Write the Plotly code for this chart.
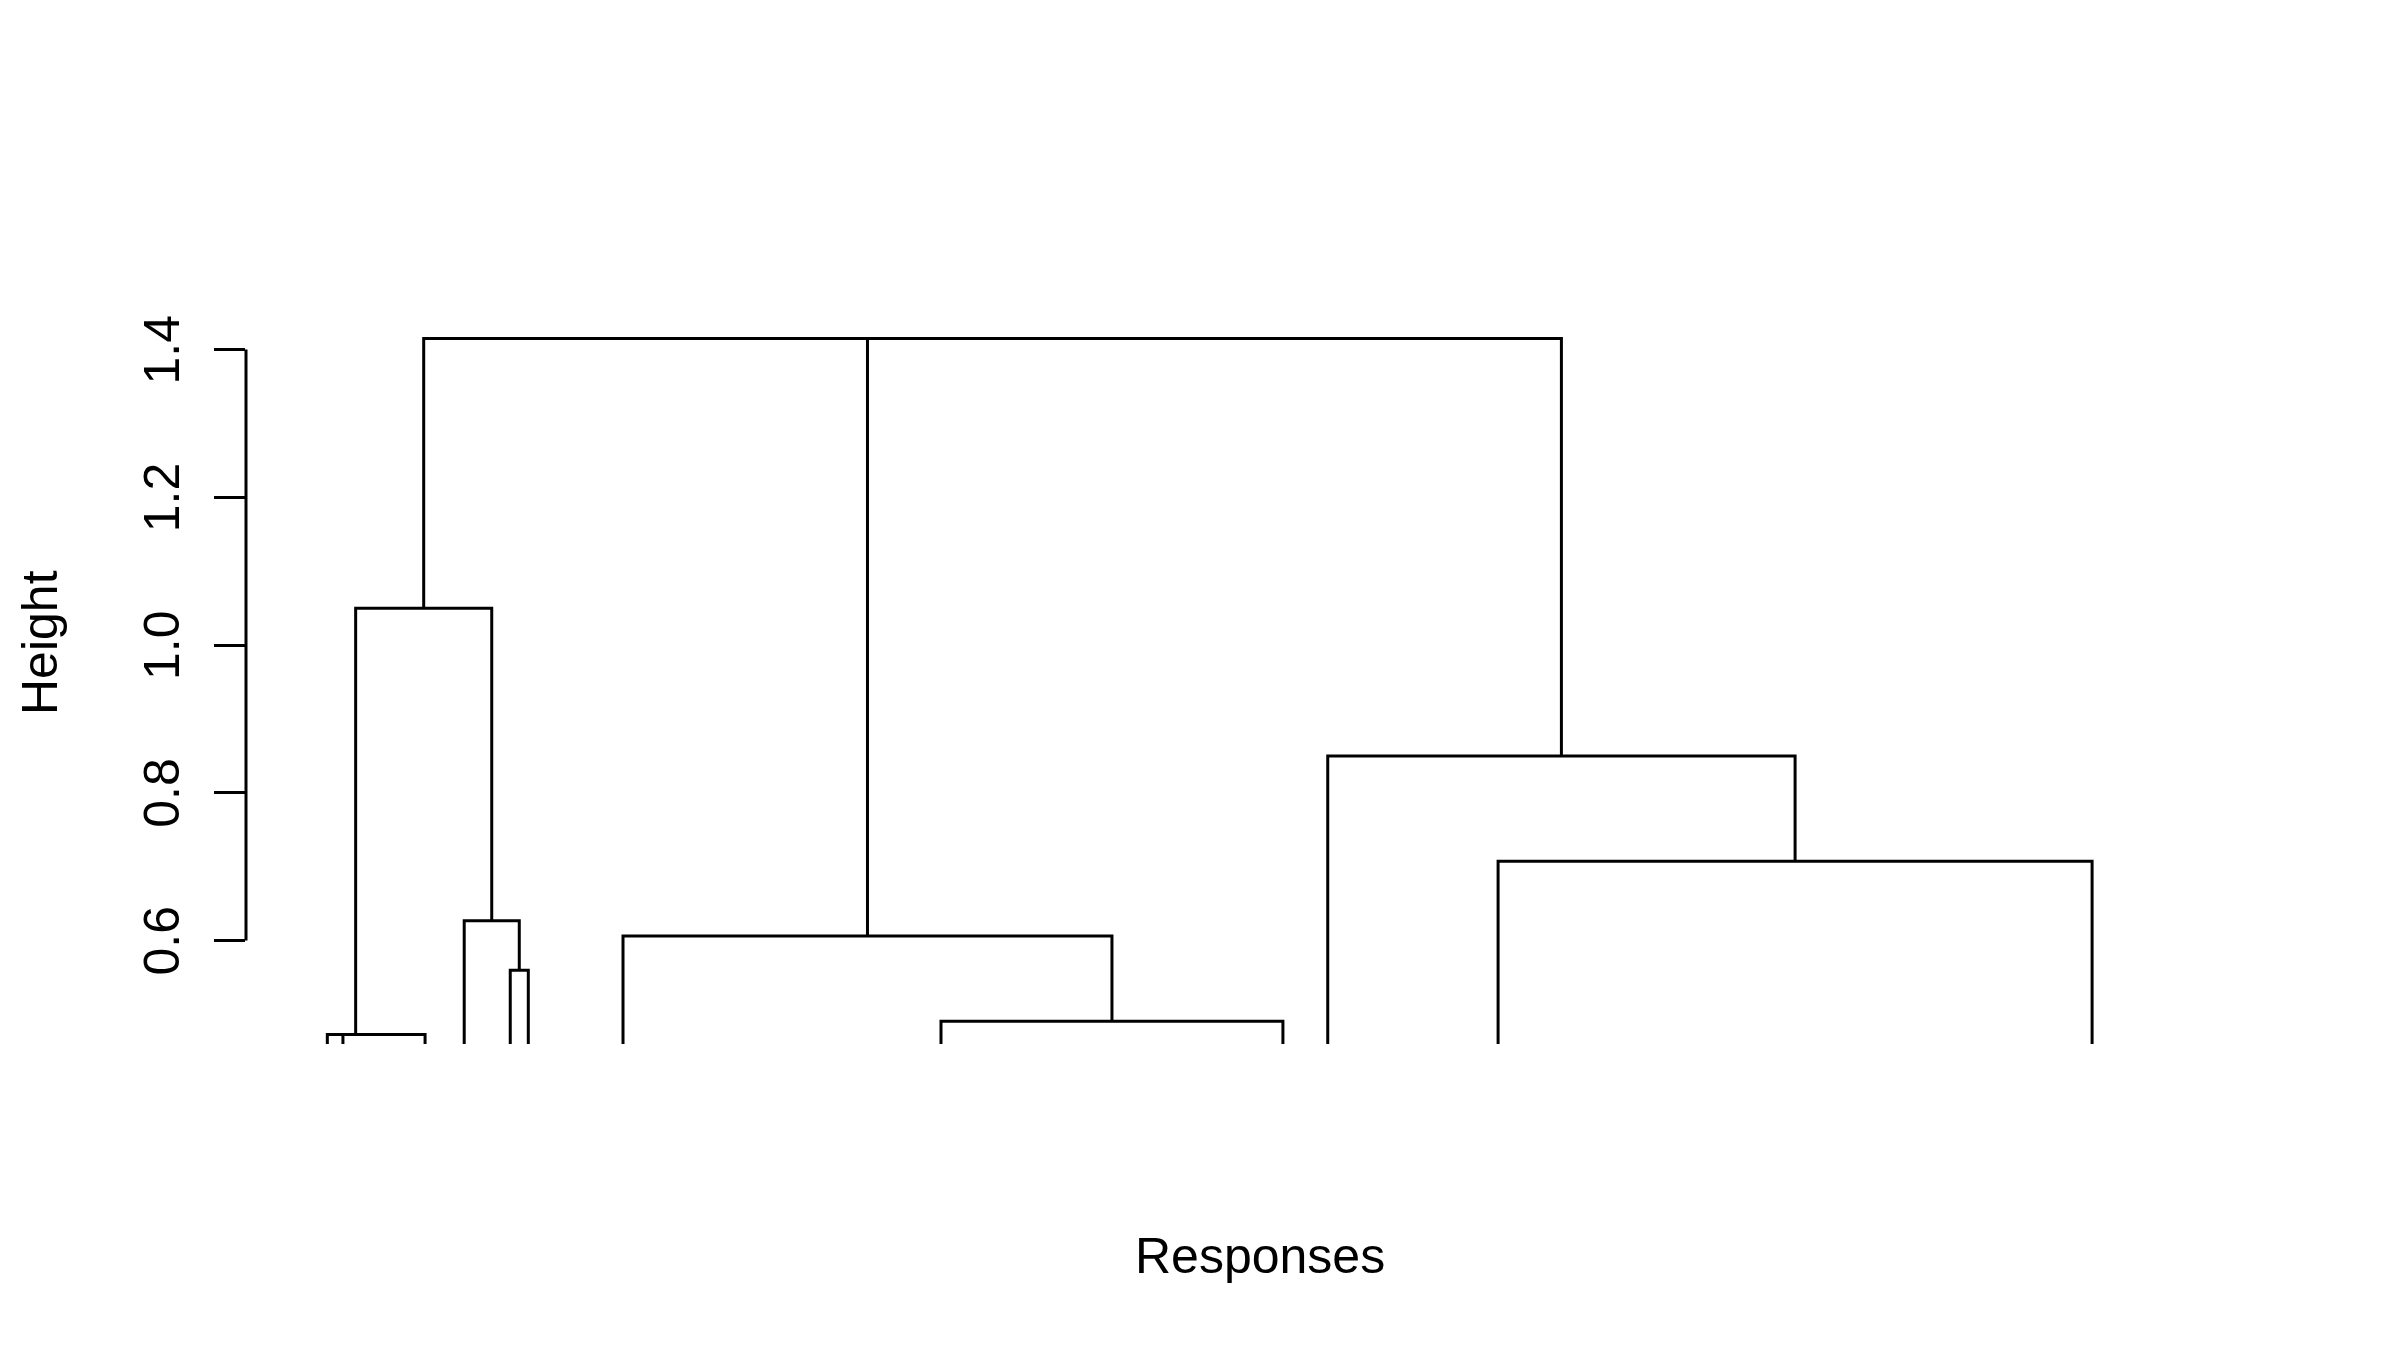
import plotly.graph_objects as go

# Visible sub-tree stubs (leaf-order position, 0-100 across the plot), left to right
stub_x = [4.01, 4.78, 8.83, 10.76, 13.03, 13.92, 18.59, 34.27, 51.13, 53.34, 61.74, 91.03]

# hclust-style merge table: negative = stub index (1-based), positive = earlier merge row
merge_left = [-2, -1, -5, -4, 2, -8, -7, -11, -10, 7, 5]
merge_right = [-3, 1, -6, 3, 4, -9, 6, -12, 8, 9, 10]
merge_height = [0.47286, 0.47286, 0.5597, 0.6268, 1.0496, 0.4907, 0.6062, 0.7073, 0.8498, 1.41481, 1.41481]

y_ticks = [0.6, 0.8, 1.0, 1.2, 1.4]
y_tick_labels = ["0.6", "0.8", "1.0", "1.2", "1.4"]
x_title = "Responses"
y_title = "Height"

FONT = "Liberation Sans, Arial, sans-serif"

node_x = []
node_y = []


def child_pos(ref):
    if ref < 0:
        return stub_x[-ref - 1], 0.0
    return node_x[ref - 1], node_y[ref - 1]


xs, ys = [], []
for l, r, h in zip(merge_left, merge_right, merge_height):
    xl, yl = child_pos(l)
    xr, yr = child_pos(r)
    xs += [xl, xl, xr, xr, None]
    ys += [yl, h, h, yr, None]
    node_x.append((xl + xr) / 2)
    node_y.append(h)

fig = go.Figure()
fig.add_trace(go.Scatter(x=xs, y=ys, mode="lines",
                         line=dict(color="black", width=3),
                         hoverinfo="skip", showlegend=False))

W, H = 2400, 1350
ML, MR, MT, MB = 246, 126, 246, 306
plot_h = H - MT - MB

tick_label_annotations = [
    dict(text=t, xref="paper", yref="y", x=0, xshift=162 - ML, y=v,
         xanchor="center", yanchor="middle", textangle=-90, showarrow=False,
         font=dict(family=FONT, size=50, color="black"))
    for v, t in zip(y_ticks, y_tick_labels)
]

fig.update_layout(
    width=W, height=H, autosize=False,
    margin=dict(l=ML, r=MR, t=MT, b=MB, pad=0),
    paper_bgcolor="white", plot_bgcolor="white",
    font=dict(family=FONT, size=50, color="black"),
    xaxis=dict(range=[0, 100], visible=False, fixedrange=True),
    yaxis=dict(range=[0.46, 1.54], tickvals=y_ticks, showticklabels=False,
               ticks="outside", ticklen=31, tickwidth=3, tickcolor="black",
               showline=False, showgrid=False, zeroline=False, fixedrange=True),
    shapes=[dict(type="line", xref="paper", x0=0, x1=0, yref="y",
                 y0=y_ticks[0], y1=y_ticks[-1],
                 line=dict(color="black", width=3))],
    annotations=[
        dict(text=x_title, xref="paper", yref="paper", x=0.5,
             y=(H - MB - 1256) / plot_h, xanchor="center", yanchor="middle",
             showarrow=False, font=dict(family=FONT, size=50, color="black")),
        dict(text=y_title, xref="paper", yref="paper", x=0,
             xshift=40 - ML, y=(H - MB - 643) / plot_h,
             xanchor="center", yanchor="middle", textangle=-90,
             showarrow=False, font=dict(family=FONT, size=50, color="black")),
    ] + tick_label_annotations,
)

fig.write_html("out.html")
